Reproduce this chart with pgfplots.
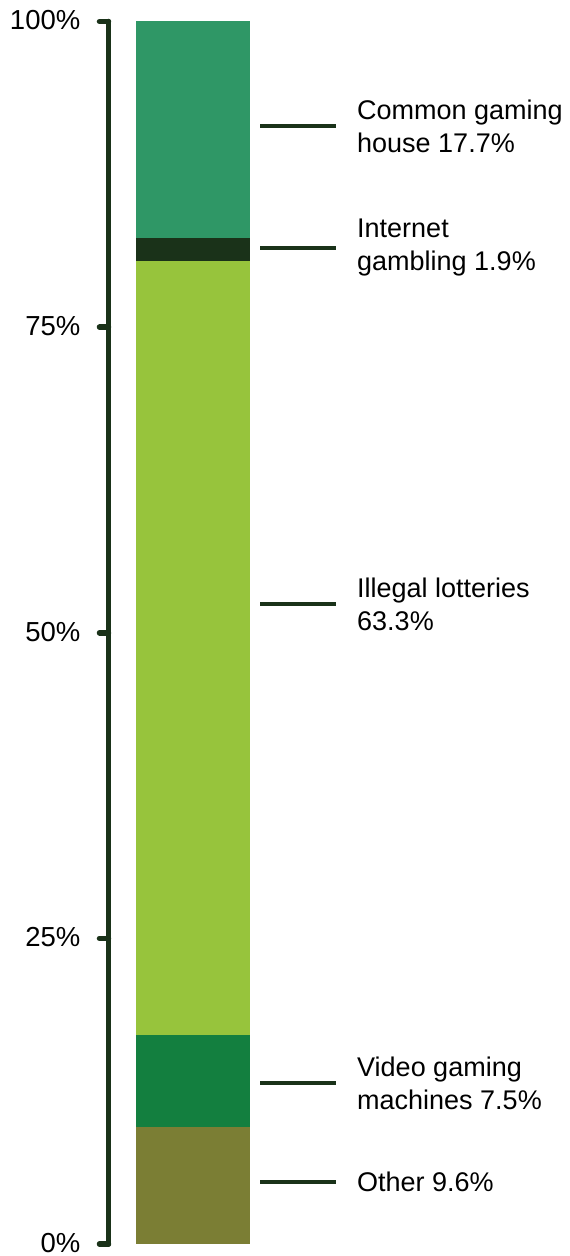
\documentclass[border=0pt]{standalone}
\usepackage{pgfplots}
\pgfplotsset{compat=1.18}
\usepackage{fontspec}
\setmainfont{Liberation Sans}
\definecolor{cCommon}{HTML}{2F9766}
\definecolor{cInternet}{HTML}{1A3219}
\definecolor{cIllegal}{HTML}{97C43C}
\definecolor{cVideo}{HTML}{137F3F}
\definecolor{cOther}{HTML}{7B7E34}
\definecolor{cDark}{HTML}{1A3219}
\pgfplotsset{
  common/.style={
    at={(0,0)}, anchor=south west,
    scale only axis, width=460.5pt, height=1222.5pt,
    xmin=108.5, xmax=569, ymin=0, ymax=100,
    enlargelimits=false, clip=false,
  }
}
\begin{document}
\begin{tikzpicture}
\begin{axis}[
  common,
  axis x line=none, axis y line*=left,
  y axis line style={line width=5.5pt, color=cDark, line cap=round},
  ytick={0,25,50,75,100},
  yticklabel={\pgfmathprintnumber{\tick}\%},
  /pgf/number format/assume math mode=true,
  tick align=outside, major tick length=9pt,
  major tick style={line width=5.5pt, color=cDark, line cap=round},
  yticklabel style={font=\fontsize{27.5}{30}\selectfont, anchor=east, inner sep=0pt, xshift=-19pt, yshift=1pt},
  ybar stacked, bar width=114,
]
\addplot[fill=cOther, draw=none] coordinates {(193,9.6)};
\addplot[fill=cVideo, draw=none] coordinates {(193,7.5)};
\addplot[fill=cIllegal, draw=none] coordinates {(193,63.3)};
\addplot[fill=cInternet, draw=none] coordinates {(193,1.9)};
\addplot[fill=cCommon, draw=none] coordinates {(193,17.7)};
\end{axis}
\begin{axis}[
  common,
  hide axis,
]
\coordinate (ll) at (axis cs:0,-0.98);
\coordinate (ur) at (axis cs:569,101.76);
\addplot[line width=4pt, color=cDark] coordinates {(260,91.45) (336,91.45)};
\addplot[line width=4pt, color=cDark] coordinates {(260,81.5) (336,81.5)};
\addplot[line width=4pt, color=cDark] coordinates {(260,52.35) (336,52.35)};
\addplot[line width=4pt, color=cDark] coordinates {(260,13.17) (336,13.17)};
\addplot[line width=4pt, color=cDark] coordinates {(260,5.07) (336,5.07)};
\begin{scope}[every node/.style={anchor=west, align=left, inner sep=0pt, font=\fontsize{27}{32.7}\selectfont}]
\node at (axis cs:357,91.45) {Common gaming\\house 17.7\%};
\node at (axis cs:357,81.5) {Internet\\gambling 1.9\%};
\node at (axis cs:357,52.35) {Illegal lotteries\\63.3\%};
\node at (axis cs:357,13.17) {Video gaming\\machines 7.5\%};
\node at (axis cs:357,5.07) {Other 9.6\%};
\end{scope}
\end{axis}
\pgfresetboundingbox
\path[use as bounding box] (ll) rectangle (ur);
\end{tikzpicture}
\end{document}
